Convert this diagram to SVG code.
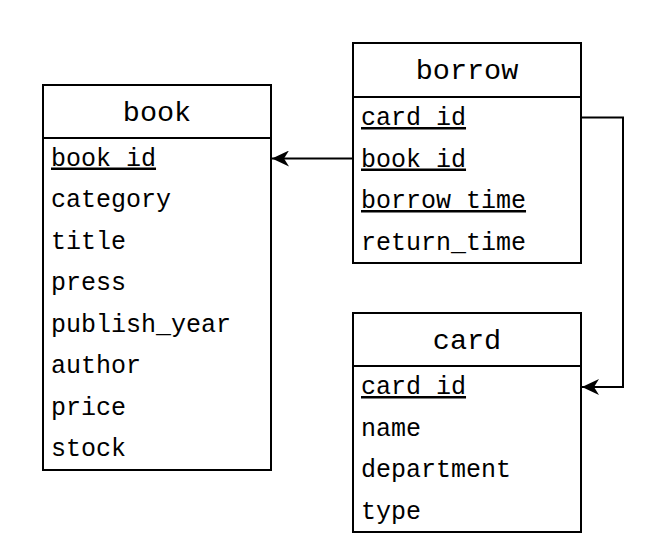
<svg xmlns="http://www.w3.org/2000/svg" width="653" height="551" viewBox="0 0 653 551">
<style>
.box{fill:#fff;stroke:#000;stroke-width:2}
.sep{stroke:#000;stroke-width:2}
.title{font-family:"Liberation Mono","Courier New",monospace;font-size:28.5px;fill:#000;text-anchor:middle}
.field{font-family:"Liberation Mono","Courier New",monospace;font-size:25px;fill:#000}
.pk{text-decoration:underline}
.conn{fill:none;stroke:#000;stroke-width:2}
</style>
<defs>
<marker id="arrow" viewBox="0 0 18 16" refX="17" refY="8" markerWidth="18" markerHeight="16" markerUnits="userSpaceOnUse" orient="auto">
<path d="M17,8 L0,0 L5,8 L0,16 Z" fill="#000"/>
</marker>
</defs>
<rect width="653" height="551" fill="#fff"/>
<g id="book">
<rect class="box" x="43" y="85" width="228" height="385"/>
<line class="sep" x1="43" y1="138" x2="271" y2="138"/>
<text class="title" x="157" y="121">book</text>
<text class="field pk" x="51" y="165.5">book_id</text>
<text class="field" x="51" y="207">category</text>
<text class="field" x="51" y="248.5">title</text>
<text class="field" x="51" y="290">press</text>
<text class="field" x="51" y="331.5">publish_year</text>
<text class="field" x="51" y="373">author</text>
<text class="field" x="51" y="414.5">price</text>
<text class="field" x="51" y="456">stock</text>
</g>
<g id="borrow">
<rect class="box" x="353" y="43" width="228" height="220"/>
<line class="sep" x1="353" y1="97" x2="581" y2="97"/>
<text class="title" x="467" y="79">borrow</text>
<text class="field pk" x="361" y="125">card_id</text>
<text class="field pk" x="361" y="166.5">book_id</text>
<text class="field pk" x="361" y="208">borrow_time</text>
<text class="field" x="361" y="249.5">return_time</text>
</g>
<g id="card">
<rect class="box" x="353" y="313" width="228" height="219"/>
<line class="sep" x1="353" y1="366" x2="581" y2="366"/>
<text class="title" x="467" y="349">card</text>
<text class="field pk" x="361" y="394">card_id</text>
<text class="field" x="361" y="435.5">name</text>
<text class="field" x="361" y="477">department</text>
<text class="field" x="361" y="518.5">type</text>
</g>
<g id="connectors">
<path class="conn" d="M353,158.5 L272,158.5" marker-end="url(#arrow)"/>
<path class="conn" d="M581,117.5 L623,117.5 L623,387 L582,387" marker-end="url(#arrow)"/>
</g>
</svg>
